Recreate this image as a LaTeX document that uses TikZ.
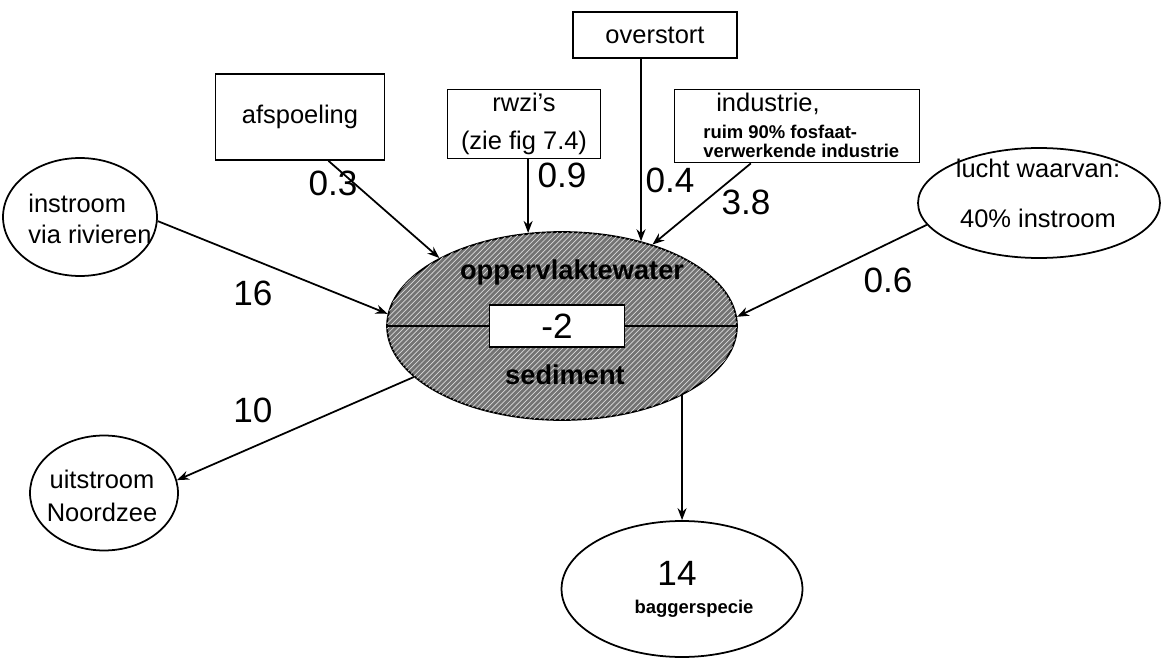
\documentclass[tikz,border=0pt]{standalone}
\usepackage{fontspec}
\setmainfont{Liberation Sans}
\usetikzlibrary{positioning,arrows.meta,shapes.geometric,calc,patterns}
\tikzset{
  box/.style={draw=black,line width=1pt,inner sep=0pt,align=center,
              font=\fontsize{14.5}{17}\selectfont},
  oval/.style={draw=black,line width=1pt,ellipse,inner sep=0pt},
  txt/.style={inner sep=0pt,font=\fontsize{14.5}{17}\selectfont},
  smalltxt/.style={inner sep=0pt,font=\fontsize{10.5}{10.8}\selectfont\bfseries},
  num/.style={inner sep=0pt,font=\fontsize{20}{24}\selectfont},
  arr/.style={-{Stealth[length=2.4mm,width=1.8mm]},line width=1pt}
}

\begin{document}
\begin{tikzpicture}[x=0.02cm,y=-0.02cm]
  \useasboundingbox (0,0) rectangle (1165,658);
  % central compartment
  \node[oval,minimum width=7cm,minimum height=3.76cm,fill=black!55,
        postaction={pattern=north east lines,pattern color=white!85!black}] (water) at (562,326) {};
  \node[box,fill=white,minimum width=2.7cm,minimum height=0.84cm,font=\fontsize{20}{24}\selectfont] (val) at (557,326) {-2};
  \draw[line width=1pt] (water.west) -- (val.west);
  \draw[line width=1pt] (val.east) -- (water.east);
  \node[txt,font=\fontsize{15.5}{18}\selectfont\bfseries] (wlabel) at (572,272) {oppervlaktewater};
  \node[txt,font=\fontsize{15.5}{18}\selectfont\bfseries] (slabel) at (565,375) {sediment};

  % sources
  \node[box,minimum width=3.38cm,minimum height=1.72cm] (afsp) at (300,117) {afspoeling};
  \node[box,minimum width=3.06cm,minimum height=1.38cm,font=\fontsize{14.5}{21.5}\selectfont] (rwzi) at (524,124) {rwzi's\\(zie fig 7.4)};
  \node[box,minimum width=3.28cm,minimum height=0.92cm] (over) at (655,35) {overstort};
  \node[box,minimum width=4.9cm,minimum height=1.46cm] (ind) at (797,126) {};
  \node[txt] (indtop) at (768,104) {industrie,};
  \node[smalltxt,align=left,anchor=west] (indsub) at (703,141) {ruim 90\% fosfaat-\\verwerkende industrie};

  \node[oval,minimum width=3.08cm,minimum height=2.36cm] (inst) at (80,217) {};
  \node[txt,align=left,font=\fontsize{14.5}{18}\selectfont] (insttxt) at (90,219) {instroom\\via rivieren};
  \node[oval,minimum width=4.84cm,minimum height=2.2cm] (lucht) at (1039,203) {};
  \node[txt,align=center] (luchttxt) at (1038,193) {lucht waarvan:\\[4mm]40\% instroom};

  % sinks
  \node[oval,minimum width=2.96cm,minimum height=2.3cm] (uit) at (104,493) {};
  \node[txt,align=center,font=\fontsize{14.5}{18.5}\selectfont] (uittxt) at (102,496) {uitstroom\\Noordzee};
  \node[oval,minimum width=4.82cm,minimum height=2.72cm] (bag) at (682,589) {};
  \node[num] (bagval) at (677,573) {14};
  \node[smalltxt] (bagtxt) at (694,609) {baggerspecie};

  % fluxes
  \draw[arr] (afsp.-57) -- (water.151);
  \draw[arr] (rwzi.south -| water.110) -- (water.110);
  \draw[arr] (over.south -| water.47) -- (water.47);
  \draw[arr] (ind.-141) -- (water.42);
  \draw[arr] (inst.-3) -- (water.176);
  \draw[arr] (lucht.191) -- (water.3);
  \draw[arr] (water.199) -- (uit.10);
  \draw[arr] (water.-30) -- (water.-30 |- bag.north);

  \foreach \v/\x/\y [count=\i] in {0.3/333/183,0.9/562/175,0.4/670/180,3.8/746/202,
                                    16/253/293,0.6/888/280,10/253/410}
    \node[num] (flow\i) at (\x,\y) {\v};
\end{tikzpicture}
\end{document}
